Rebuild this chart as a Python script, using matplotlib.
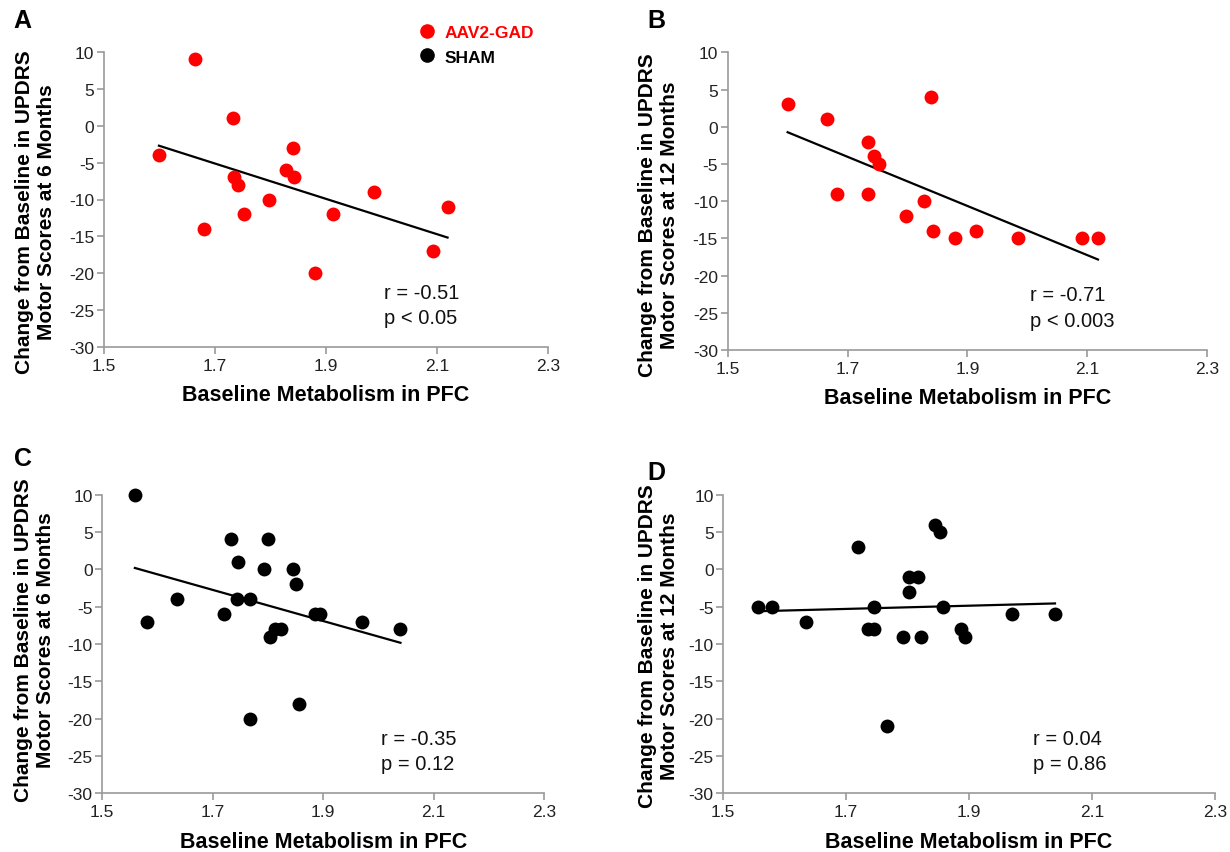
import numpy as np
import matplotlib
matplotlib.use("Agg")
import matplotlib.pyplot as plt
from matplotlib.lines import Line2D

plt.rcParams['font.family'] = ['Liberation Sans', 'DejaVu Sans']

# ---- data ----
a_x = [1.664, 1.733, 1.599, 1.840, 1.828, 1.735, 1.842, 1.742, 1.798, 1.986,
       1.753, 1.913, 2.119, 1.681, 2.092, 1.880]
a_y = [9, 1, -4, -3, -6, -7, -7, -8, -10, -9, -12, -12, -11, -14, -17, -20]

b_x = [1.600, 1.665, 1.840, 1.735, 1.744, 1.753, 1.682, 1.735, 1.828, 1.798,
       1.842, 1.914, 1.880, 1.985, 2.091, 2.118]
b_y = [3, 1, 4, -2, -4, -5, -9, -9, -10, -12, -14, -14, -15, -15, -15, -15]

c_x = [1.559, 1.734, 1.801, 1.745, 1.793, 1.845, 1.851, 1.635, 1.744, 1.768,
       1.721, 1.886, 1.894, 1.581, 1.970, 1.813, 1.823, 2.040, 1.803, 1.856, 1.767]
c_y = [10, 4, 4, 1, 0, 0, -2, -4, -4, -4, -6, -6, -6, -7, -7, -8, -8, -8, -9, -18, -20]

d_x = [1.557, 1.580, 1.634, 1.720, 1.736, 1.745, 1.745, 1.766, 1.792, 1.802,
       1.803, 1.817, 1.822, 1.844, 1.852, 1.857, 1.887, 1.893, 1.970, 2.040]
d_y = [-5, -5, -7, 3, -8, -8, -5, -21, -9, -3, -1, -1, -9, 6, 5, -5, -8, -9, -6, -6]

panel_letters = ['A', 'B', 'C', 'D']
months = ['6', '12', '6', '12']
stats = [('r = -0.51', 'p < 0.05'), ('r = -0.71', 'p < 0.003'),
         ('r = -0.35', 'p = 0.12'), ('r = 0.04', 'p = 0.86')]
x_ticks = [1.5, 1.7, 1.9, 2.1, 2.3]
y_ticks = [10, 5, 0, -5, -10, -15, -20, -25, -30]
legend_labels = ['AAV2-GAD', 'SHAM']

RED = '#ff0000'
BLACK = '#000000'
GRAY = '#9a9a9a'

W, H = 1230, 853
fig = plt.figure(figsize=(W / 100, H / 100), dpi=100)

def px_rect(l, t, r, b):
    return [l / W, 1 - b / H, (r - l) / W, (b - t) / H]

rects = [px_rect(104, 53, 548, 348), px_rect(727.7, 53.3, 1207, 351),
         px_rect(102.3, 495.7, 544, 794.3), px_rect(723.3, 495.7, 1214.7, 794.3)]
datasets = [(a_x, a_y, RED), (b_x, b_y, RED), (c_x, c_y, BLACK), (d_x, d_y, BLACK)]
ylabel_coords = [(-0.109, 0.461), (-0.102, 0.457), (-0.106, 0.517), (-0.090, 0.497)]
letter_pos = [(13, 9), (647, 9), (14, 447), (647, 461)]

for i, (rect, (xs, ys, col)) in enumerate(zip(rects, datasets)):
    ax = fig.add_axes(rect)
    ax.scatter(xs, ys, s=100, color=col, zorder=3, linewidths=0, clip_on=False)
    k, c0 = np.polyfit(xs, ys, 1)
    xl = np.array([min(xs), max(xs)])
    ax.plot(xl, k * xl + c0, color='black', lw=1.6, zorder=2)
    ax.set_xlim(1.5, 2.3)
    ax.set_ylim(-30, 10)
    ax.set_xticks(x_ticks)
    ax.set_xticklabels([f'{v:.1f}' for v in x_ticks])
    ax.set_yticks(y_ticks)
    ax.set_yticklabels([str(v) for v in y_ticks])
    for s in ['top', 'right']:
        ax.spines[s].set_visible(False)
    for s in ['left', 'bottom']:
        ax.spines[s].set_color(GRAY)
        ax.spines[s].set_linewidth(1.2)
    ax.tick_params(axis='both', colors=GRAY, labelcolor='#222222', labelsize=12.5,
                   direction='out', length=5, width=1.2)
    ax.tick_params(axis='x', pad=3)
    ax.tick_params(axis='y', pad=2)
    ax.set_xlabel('Baseline Metabolism in PFC', fontsize=15.5, fontweight='bold')
    ax.xaxis.set_label_coords(0.5, -0.125)
    ax.set_ylabel(f'Change from Baseline in UPDRS\nMotor Scores at {months[i]} Months',
                  fontsize=15, fontweight='bold', linespacing=1.2)
    ax.yaxis.set_label_coords(*ylabel_coords[i])
    ax.text(2.005, -22.6, stats[i][0], fontsize=14.5, va='center', ha='left', color='#111111')
    ax.text(2.005, -26.0, stats[i][1], fontsize=14.5, va='center', ha='left', color='#111111')
    lx, ly = letter_pos[i]
    fig.text(lx / W, 1 - ly / H, panel_letters[i], fontsize=18, fontweight='bold',
             ha='left', va='top')

handles = [Line2D([], [], marker='o', ls='none', color=RED, markersize=9.5),
           Line2D([], [], marker='o', ls='none', color=BLACK, markersize=9.5)]
leg = fig.legend(handles, legend_labels, loc='upper left',
                 bbox_to_anchor=(410 / W, 1 - 17 / H), frameon=False,
                 prop={'size': 12.5, 'weight': 'bold'}, handletextpad=0.5,
                 labelspacing=0.55, handlelength=1.0, borderpad=0)
leg.get_texts()[0].set_color(RED)
leg.get_texts()[1].set_color(BLACK)

fig.savefig('out.png', dpi=100)
